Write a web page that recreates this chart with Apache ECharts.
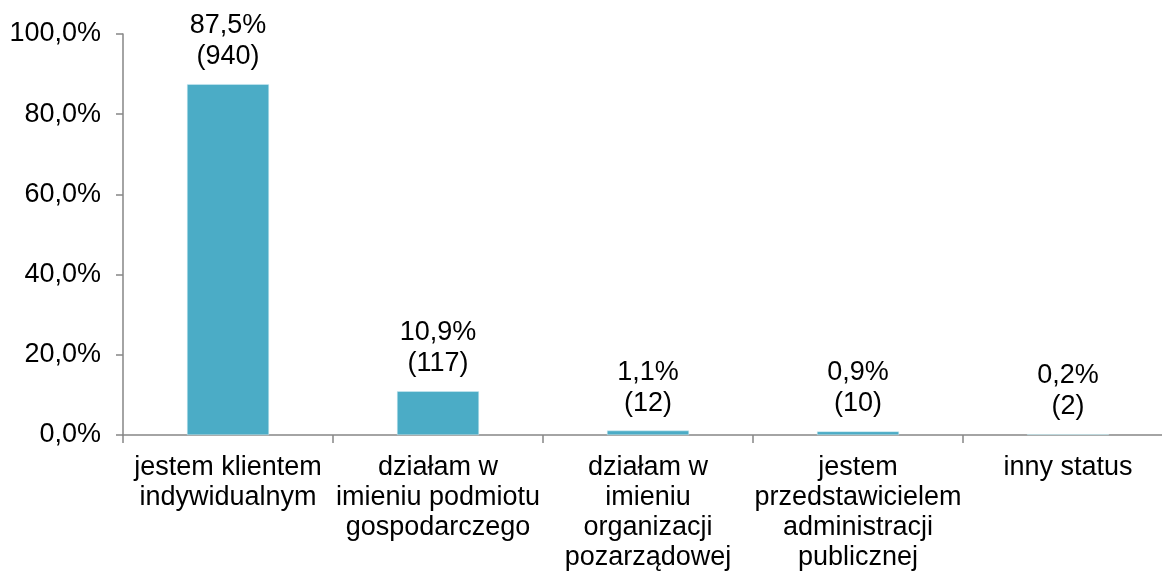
<!DOCTYPE html>
<html>
<head>
<meta charset="utf-8">
<script src="https://cdn.jsdelivr.net/npm/echarts@6/dist/echarts.min.js"></script>
<style>
  html, body { margin: 0; padding: 0; background: #fff; }
  #chart { width: 1162px; height: 574px; }
</style>
</head>
<body>
<div id="chart"></div>
<script>
  // kategorie (z ręcznym łamaniem linii jak w oryginale)
  const categories = [
    'jestem klientem\nindywidualnym',
    'działam w\nimieniu podmiotu\ngospodarczego',
    'działam w\nimieniu\norganizacji\npozarządowej',
    'jestem\nprzedstawicielem\nadministracji\npublicznej',
    'inny status'
  ];
  const percents = [87.5, 10.9, 1.1, 0.9, 0.2];
  const counts = [940, 117, 12, 10, 2];
  const yTicks = { min: 0, max: 100, interval: 20 };

  const fmt = (v) => v.toFixed(1).replace('.', ',') + '%';
  const font = '"Liberation Sans", Arial, sans-serif';

  const chart = echarts.init(document.getElementById('chart'));
  chart.setOption({
    backgroundColor: '#ffffff',
    animation: false,
    // oś X wychodzi poza prawą krawędź obrazka, jak w oryginale
    grid: { left: 123, width: 1050, top: 34, bottom: 139, outerBoundsMode: 'none', containLabel: false },
    xAxis: {
      type: 'category',
      data: categories,
      axisLine: { lineStyle: { color: '#868686', width: 1.5 } },
      axisTick: { show: true, length: 8, lineStyle: { color: '#868686', width: 1.5 } },
      axisLabel: {
        interval: 0,
        color: '#000',
        fontFamily: font,
        fontSize: 27,
        lineHeight: 30,
        margin: 18
      }
    },
    yAxis: {
      type: 'value',
      min: yTicks.min,
      max: yTicks.max,
      interval: yTicks.interval,
      splitLine: { show: false },
      axisLine: { show: true, lineStyle: { color: '#868686', width: 1.5 } },
      axisTick: { show: true, length: 7, lineStyle: { color: '#868686', width: 1.5 } },
      axisLabel: {
        formatter: fmt,
        color: '#000',
        fontFamily: font,
        fontSize: 27,
        margin: 22
      }
    },
    series: [{
      type: 'bar',
      data: percents,
      barWidth: 82,
      itemStyle: { color: '#4BACC6', borderColor: '#d6eef4', borderWidth: 0.5 },
      label: {
        show: true,
        position: 'top',
        distance: 12,
        color: '#000',
        fontFamily: font,
        fontSize: 27,
        lineHeight: 31,
        formatter: (p) => fmt(p.value) + '\n(' + counts[p.dataIndex] + ')'
      }
    }]
  });
</script>
</body>
</html>
